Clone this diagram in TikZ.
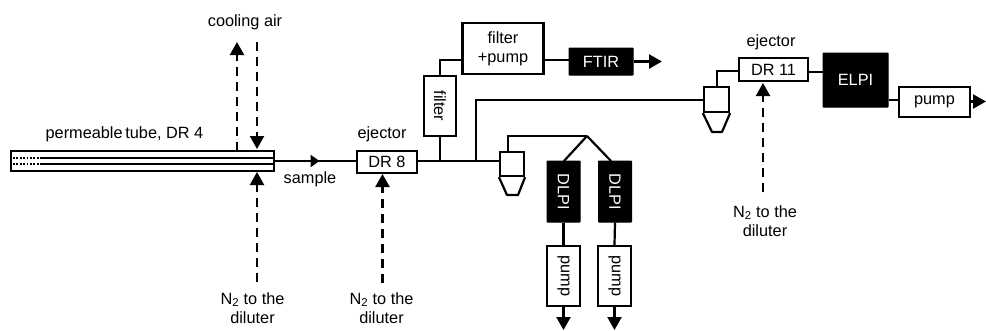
\documentclass[tikz,border=0pt]{standalone}
\usepackage{fontspec}
\setmainfont{Liberation Sans}
\usetikzlibrary{arrows.meta,decorations.markings,calc}
\tikzset{
  x=1pt,y=-1pt,
  every node/.style={font=\fontsize{16.3}{18}\selectfont,inner sep=0pt},
  wbox/.style={draw=black,line width=2.2pt,fill=white,minimum width=#1,align=center},
  bbox/.style={draw=black,line width=1pt,fill=black,text=white,minimum width=#1,align=center,rounded corners=0.5pt},
  conn/.style={line width=2.2pt,draw=black},
  tiparrow/.style={-{Triangle[length=13pt,width=14pt]}},
  dashline/.style={line width=2.2pt,dash pattern=on 9pt off 6pt},
  lab/.style={align=center},
}
\begin{document}
\begin{tikzpicture}
\useasboundingbox (0,0) rectangle (986,330);
% permeable tube
\node[wbox=263pt,minimum height=20pt] (tube) at (142.5,161) {};
\coordinate (tl1) at (41,158); \coordinate (tr1) at (274,158);
\coordinate (tl2) at (41,164); \coordinate (tr2) at (274,164);
\coordinate (te1) at (13,158); \coordinate (te2) at (13,164);
\draw[line width=1.8pt] (tl1)--(tr1) (tl2)--(tr2);
\draw[line width=1.8pt,dash pattern=on 1.8pt off 1.6pt] (te1)--(tl1) (te2)--(tl2);
\node[lab] (tubelab) at (124.5,134) {permeable\,tube, DR 4};
\node[lab] (cool) at (245,22) {cooling air};
\node[lab] (sample) at (310,179) {sample};
% boxes
\node[wbox=60pt,minimum height=22pt] (dr8) at (387,162) {DR 8};
\node[lab] (ej8) at (382,134) {ejector};
\node[wbox=32pt,minimum height=60pt] (filter) at (440,106) {\rotatebox{-90}{filter}};
\node[wbox=81pt,minimum height=51pt] (fp) at (503,48.5) {filter\\[1pt]+pump};
\node[bbox=64pt,minimum height=27pt] (ftir) at (601,61.5) {FTIR};
\coordinate (ftirend) at (662,61.5);
% cyclones
\node[wbox=24pt,minimum height=24pt] (cy1) at (512,164) {};
\draw[conn,line join=round] (cy1.south west)--(507,195)--(518,195)--(cy1.south east);
\node[wbox=25pt,minimum height=25pt] (cy2) at (716.5,99.5) {};
\draw[conn,line join=round] (cy2.south west)--(712,132)--(722,132)--(cy2.south east);
% DLPI + pumps
\node[bbox=33pt,minimum height=61pt] (d1) at (563.5,191.5) {\rotatebox{-90}{DLPI}};
\node[bbox=33pt,minimum height=61pt] (d2) at (615,191.5) {\rotatebox{-90}{DLPI}};
\node[wbox=33pt,minimum height=60pt] (p1) at (563.5,276) {\rotatebox{-90}{pump}};
\node[wbox=33pt,minimum height=60pt] (p2) at (614.5,276) {\rotatebox{-90}{pump}};
\coordinate (p1end) at (563.5,330);
\coordinate (p2end) at (614.5,330);
\coordinate (split) at (587,136);
% right side
\node[wbox=69pt,minimum height=23pt] (dr11) at (773.5,69.5) {DR 11};
\node[lab] (ej11) at (771,42) {ejector};
\node[bbox=65pt,minimum height=54pt] (elpi) at (855.5,80) {ELPI};
\node[wbox=71pt,minimum height=30pt] (pump) at (934.5,102) {pump};
\coordinate (pumpend) at (986,101.5);
% N2 labels
\node[lab] (n1) at (252.5,308) {N\textsubscript{2} to the\\[1pt]diluter};
\node[lab] (n2) at (381.5,308) {N\textsubscript{2} to the\\[1pt]diluter};
\node[lab] (n3) at (765,221) {N\textsubscript{2} to the\\[1pt]diluter};
% solid connectors
\draw[conn,postaction={decorate},decoration={markings,mark=at position 0.55 with {\arrow{Triangle[length=9pt,width=12pt]}}}] (tube.east) -- (dr8.west |- tube.east);
\draw[conn] (dr8.east |- tube.east) -- (cy1.west |- tube.east);
\draw[conn] (filter.south |- tube.east) -- (filter.south);
\coordinate (y60) at (0,60);
\draw[conn] (filter.north) -- (filter.north |- y60) -- (fp.west |- y60);
\draw[conn] (fp.east |- y60) -- (ftir.west |- y60);
\draw[conn,tiparrow] (ftir.east) -- (ftirend);
\coordinate (y100) at (0,100);
\coordinate (j1) at (476,161);
\draw[conn] (j1) -- (j1 |- y100) -- (cy2.west |- y100);
\coordinate (c1top) at (508,152);
\draw[conn] (c1top) -- (c1top |- split) -- (split);
\draw[conn] (split) -- (564,161);
\draw[conn] (split) -- (611,161);
\draw[conn] (d1.south) -- (p1.north);
\draw[conn] (d2.south) -- (p2.north);
\draw[conn,tiparrow] (p1.south) -- (p1end);
\draw[conn,tiparrow] (p2.south) -- (p2end);
\coordinate (y71) at (0,71);
\coordinate (c2top) at (717,87);
\draw[conn] (c2top) -- (c2top |- y71) -- (dr11.west |- y71);
\coordinate (y72) at (0,72);
\draw[conn] (dr11.east |- y72) -- (elpi.west |- y72);
\draw[conn] (elpi.east |- y100) -- (pump.west |- y100);
\draw[conn,tiparrow] (pump.east |- pumpend) -- (pumpend);
% dashed connectors
\draw[dashline] (237,151) -- (237,55);
\draw[conn,tiparrow] (237,56) -- (237,42);
\draw[dashline] (257,42) -- (257,136);
\draw[conn,tiparrow] (257,135) -- (257,149);
\draw[dashline] (257,282) -- (257,186);
\draw[conn,tiparrow] (257,186) -- (257,172);
\draw[dashline] (382.5,283) -- (382.5,188);
\draw[conn,tiparrow] (382.5,188) -- (382.5,174);
\draw[dashline] (763,192) -- (763,97);
\draw[conn,tiparrow] (763,97) -- (763,83);
\end{tikzpicture}
\end{document}
